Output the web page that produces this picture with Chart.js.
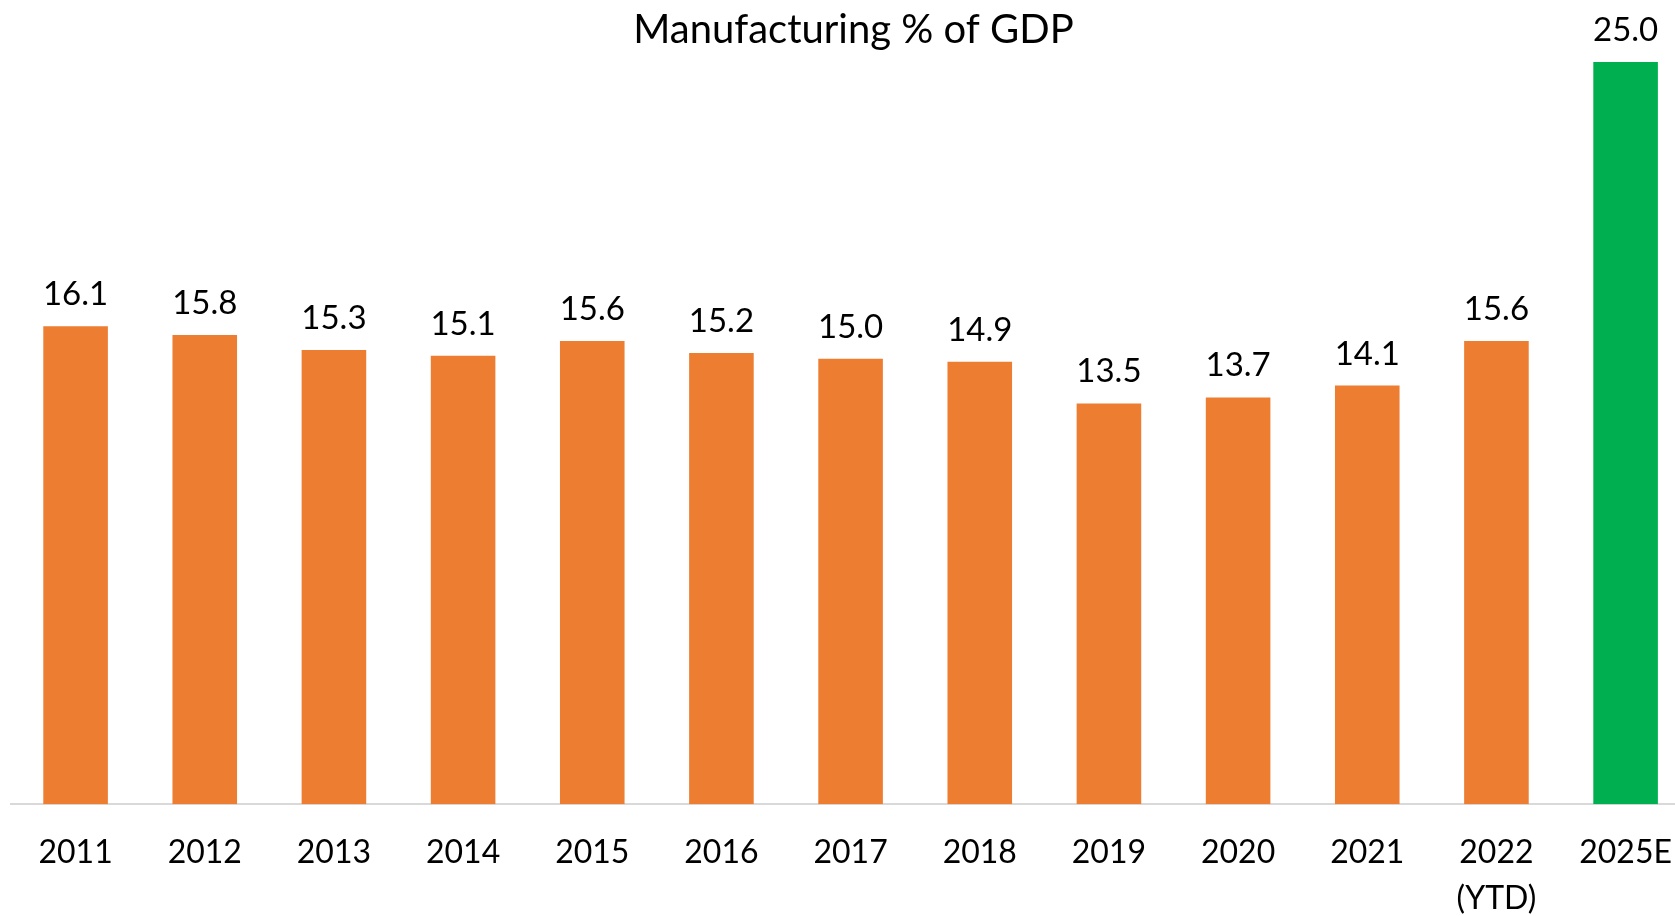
<!DOCTYPE html>
<html>
<head>
<meta charset="utf-8">
<script src="https://cdn.jsdelivr.net/npm/chart.js@4"></script>
<style>
  html, body { margin: 0; padding: 0; background: #fff; overflow: hidden; }
  #wrap { width: 1675px; height: 916px; overflow: hidden; }
</style>
</head>
<body>
<div id="wrap">
  <canvas id="gdpChart" width="1697" height="947"></canvas>
</div>
<script>
  // data
  var years = ['2011', '2012', '2013', '2014', '2015', '2016', '2017', '2018', '2019', '2020', '2021', ['2022', '(YTD)'], '2025E'];
  var shares = [16.1, 15.8, 15.3, 15.1, 15.6, 15.2, 15.0, 14.9, 13.5, 13.7, 14.1, 15.6, 25.0];
  var barColors = ['#ED7D31', '#ED7D31', '#ED7D31', '#ED7D31', '#ED7D31', '#ED7D31', '#ED7D31',
                   '#ED7D31', '#ED7D31', '#ED7D31', '#ED7D31', '#ED7D31', '#00B050'];

  var fontName = 'Lato, "Noto Sans", sans-serif';

  // writes the value above each bar
  var valueLabels = {
    id: 'valueLabels',
    afterDatasetsDraw: function (chart) {
      var ctx = chart.ctx;
      var meta = chart.getDatasetMeta(0);
      ctx.save();
      ctx.font = '33px ' + fontName;
      ctx.fillStyle = '#000';
      ctx.textAlign = 'center';
      ctx.textBaseline = 'alphabetic';
      meta.data.forEach(function (bar, i) {
        ctx.fillText(shares[i].toFixed(1), bar.x, bar.y - 21);
      });
      ctx.restore();
    }
  };

  var ctx = document.getElementById('gdpChart').getContext('2d');

  new Chart(ctx, {
    type: 'bar',
    data: {
      labels: years,
      datasets: [{
        data: shares,
        backgroundColor: barColors,
        borderWidth: 0,
        barPercentage: 0.5,
        categoryPercentage: 1.0
      }]
    },
    options: {
      responsive: false,
      animation: false,
      layout: { padding: { left: 11, right: 1, top: 0, bottom: 0 } },
      plugins: {
        legend: { display: false },
        tooltip: { enabled: false },
        title: {
          display: true,
          text: 'Manufacturing % of GDP',
          color: '#000',
          font: { family: fontName, size: 40, weight: 'normal', lineHeight: 1.2 },
          padding: { top: 6, bottom: 2 }
        }
      },
      scales: {
        x: {
          grid: { display: false, drawTicks: false },
          border: { display: true, color: '#d9d9d9', width: 2 },
          ticks: {
            color: '#000',
            font: { family: fontName, size: 32, lineHeight: 1.45 },
            padding: 25,
            maxRotation: 0,
            autoSkip: false
          }
        },
        y: {
          display: false,
          min: 0,
          max: 25.2
        }
      }
    },
    plugins: [valueLabels]
  });
</script>
</body>
</html>
